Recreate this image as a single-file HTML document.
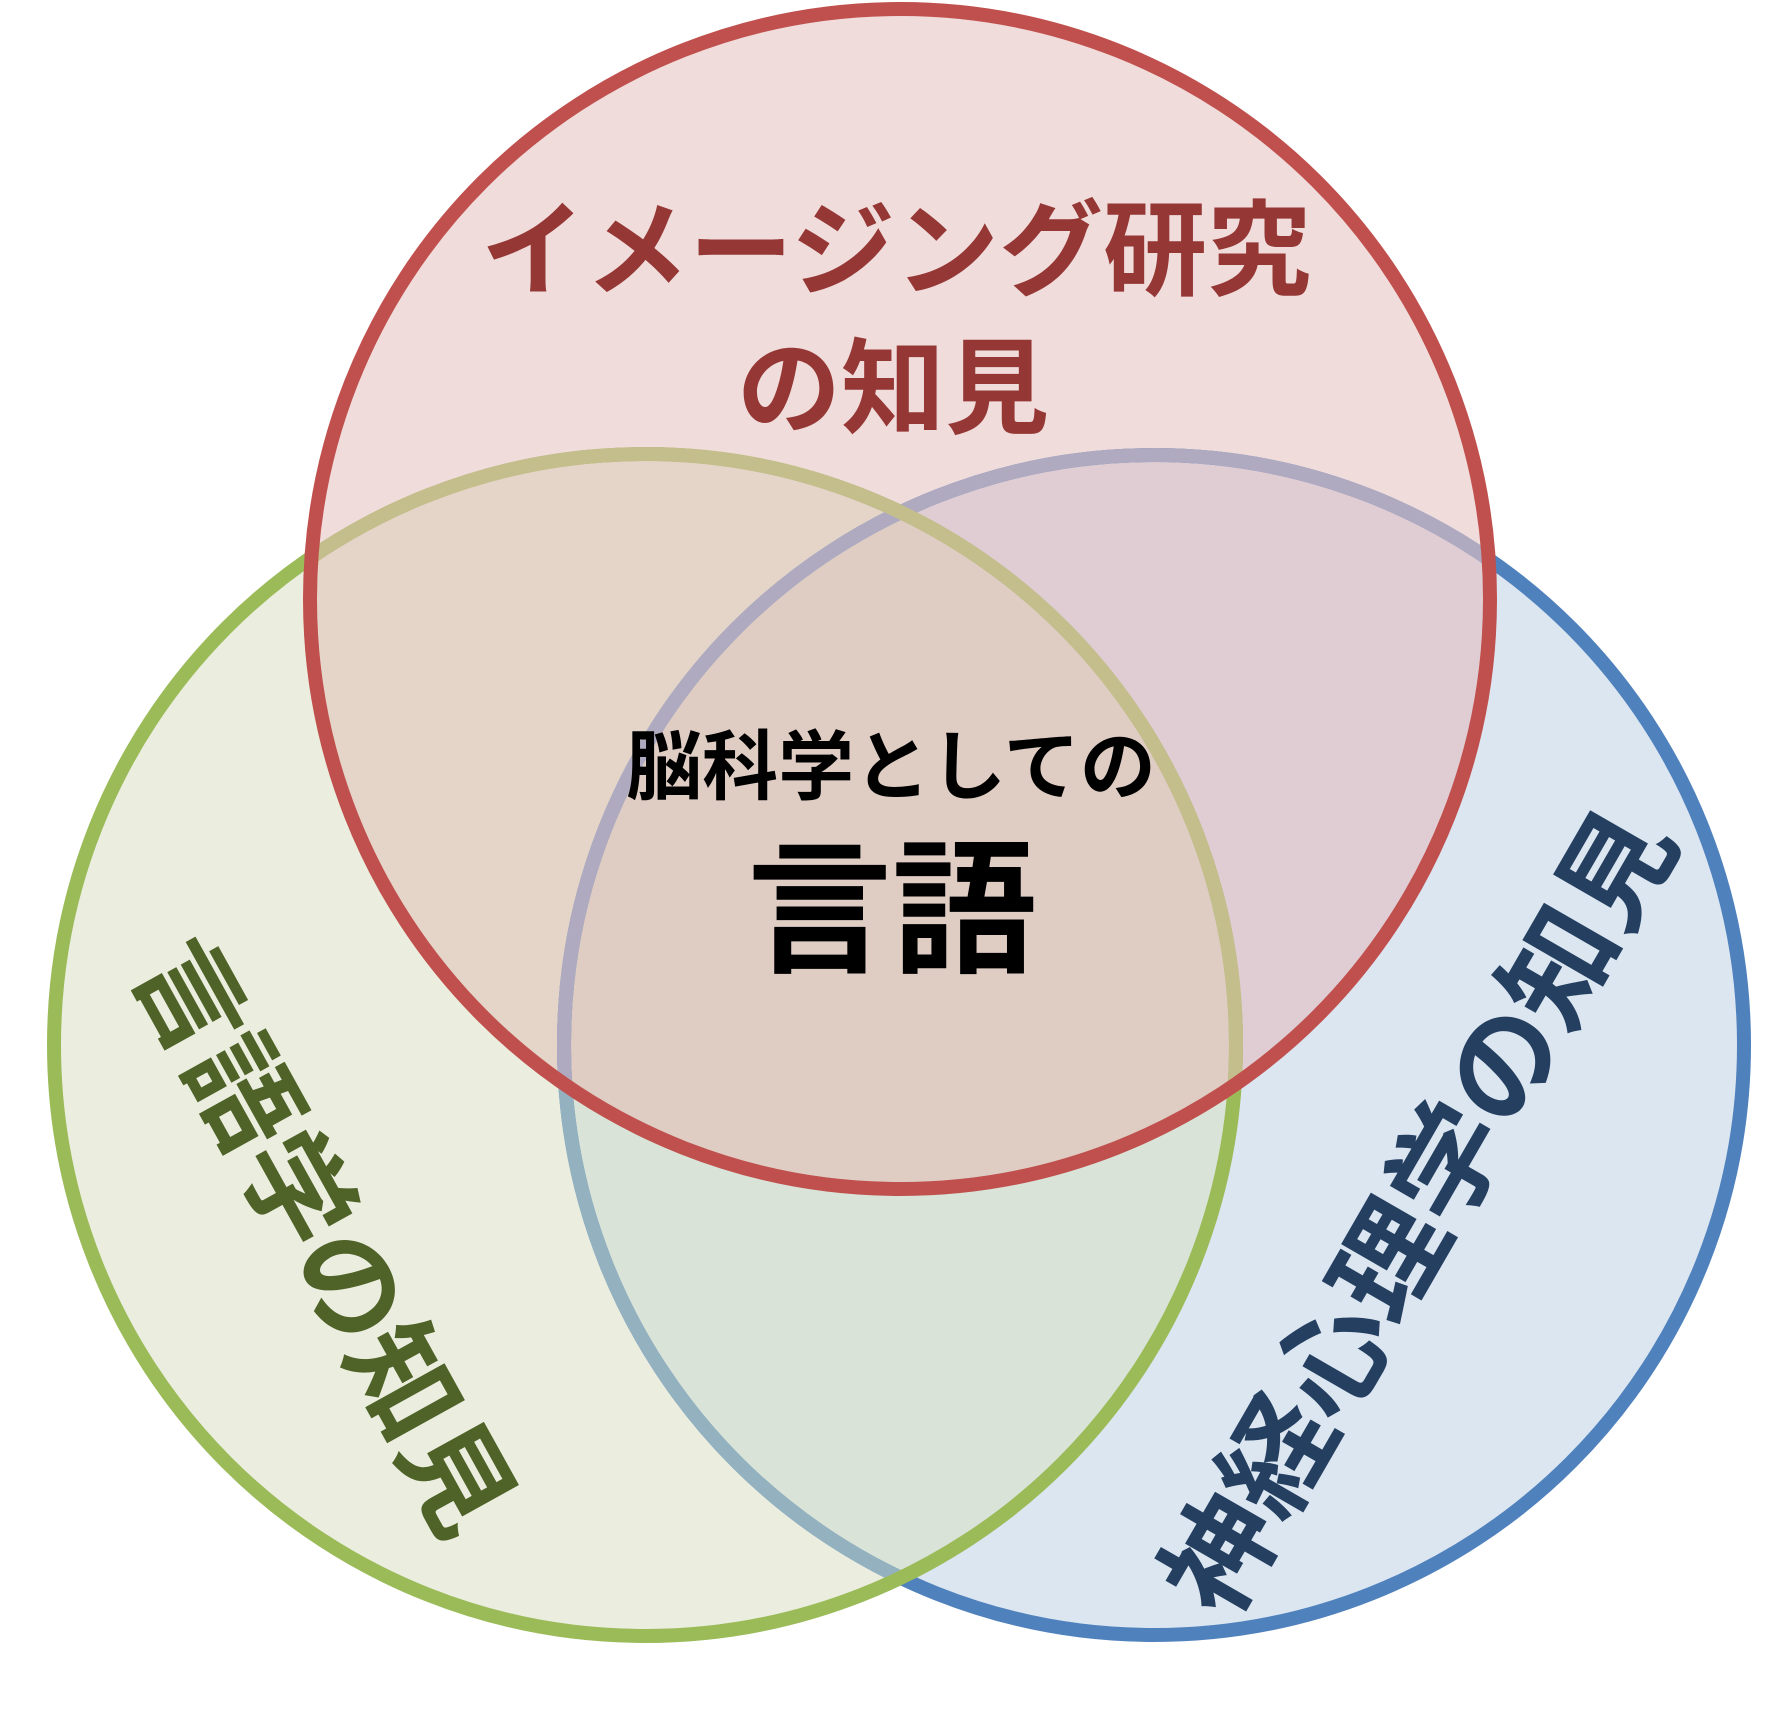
<!DOCTYPE html>
<html><head><meta charset="utf-8"><style>
html,body{margin:0;padding:0;background:#fff;}
svg{display:block;}
text{font-family:"Liberation Sans","Noto Sans CJK JP",sans-serif;font-weight:bold;}
</style></head><body>
<svg width="1790" height="1727" viewBox="0 0 1790 1727" xmlns="http://www.w3.org/2000/svg">
<defs>
<clipPath id="cT"><circle cx="900" cy="599" r="590"/></clipPath>
<clipPath id="cL"><circle cx="645" cy="1045" r="591"/></clipPath>
<clipPath id="cR"><circle cx="1154" cy="1045" r="590"/></clipPath>
</defs>
<circle cx="1154" cy="1045" r="590" fill="#dce6f1"/>
<circle cx="645" cy="1045" r="591" fill="#ebeedf"/>
<g clip-path="url(#cR)"><circle cx="645" cy="1045" r="591" fill="#d9e3d7"/></g>
<circle cx="900" cy="599" r="590" fill="#f0dcdb"/>
<g clip-path="url(#cT)">
  <circle cx="645" cy="1045" r="591" fill="#e5d4c8"/>
  <circle cx="1154" cy="1045" r="590" fill="#dfcdd3"/>
  <g clip-path="url(#cL)"><circle cx="1154" cy="1045" r="590" fill="#dfcdc4"/></g>
</g>
<circle cx="1154" cy="1045" r="590" fill="none" stroke="#4f81bd" stroke-width="14"/>
<g clip-path="url(#cL)"><circle cx="1154" cy="1045" r="590" fill="none" stroke="#94b1bf" stroke-width="14"/></g>
<circle cx="645" cy="1045" r="591" fill="none" stroke="#9bbb59" stroke-width="14"/>
<g clip-path="url(#cT)">
  <circle cx="1154" cy="1045" r="590" fill="none" stroke="#b0aac0" stroke-width="14"/>
  <circle cx="645" cy="1045" r="591" fill="none" stroke="#c4bd8c" stroke-width="14"/>
</g>
<circle cx="900" cy="599" r="590" fill="none" stroke="#c0504d" stroke-width="14"/>
<text x="896" y="252" font-size="104" fill="#953735" text-anchor="middle" dominant-baseline="central">イメージング研究</text>
<text x="893" y="390" font-size="104" fill="#953735" text-anchor="middle" dominant-baseline="central">の知見</text>
<text x="891" y="768" font-size="76" fill="#000" text-anchor="middle" dominant-baseline="central">脳科学としての</text>
<text x="892" y="911" font-size="145" fill="#000" text-anchor="middle" dominant-baseline="central">言語</text>
<text transform="translate(322,1238) rotate(61)" font-size="110" fill="#4f6228" text-anchor="middle" dominant-baseline="central">言語学の知見</text>
<text transform="translate(1420,1212) rotate(-60)" font-size="113" fill="#243f60" text-anchor="middle" dominant-baseline="central">神経心理学の知見</text>
</svg>
</body></html>
